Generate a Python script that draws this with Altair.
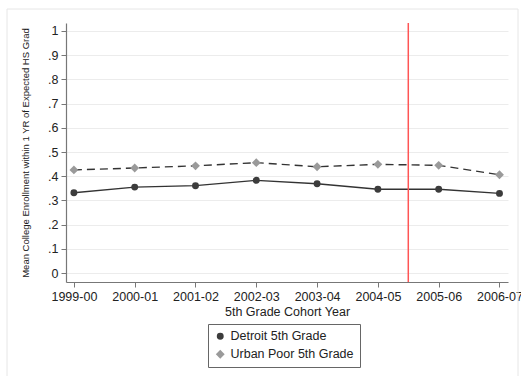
import altair as alt
import pandas as pd

# Cohort labels and the starting year each one is plotted at
cohorts = ["1999-00", "2000-01", "2001-02", "2002-03", "2003-04", "2004-05", "2005-06", "2006-07"]
start_years = [1999, 2000, 2001, 2002, 2003, 2004, 2005, 2006]

# Mean college enrollment within 1 year of expected HS graduation
detroit = [0.332, 0.355, 0.361, 0.383, 0.369, 0.346, 0.346, 0.329]
urban_poor = [0.426, 0.434, 0.443, 0.456, 0.439, 0.449, 0.445, 0.406]

series_names = ["Detroit 5th Grade", "Urban Poor 5th Grade"]
policy_break = [2004.5]
y_ticks = [0, 0.1, 0.2, 0.3, 0.4, 0.5, 0.6, 0.7, 0.8, 0.9, 1]

rows = []
for yr, d, u in zip(start_years, detroit, urban_poor):
    rows.append({"year": yr, "series": series_names[0], "value": d})
    rows.append({"year": yr, "series": series_names[1], "value": u})
df = pd.DataFrame(rows)

label_map = "{" + ",".join(f"'{y}':'{c}'" for y, c in zip(start_years, cohorts)) + "}"

FONT = "Liberation Sans"
W, H = 442, 259

x_axis = alt.Axis(
    values=start_years,
    labelExpr=f"{label_map}[datum.value]",
    title="5th Grade Cohort Year",
    grid=False,
    tickSize=5,
    labelPadding=3,
    titlePadding=3,
    labelOverlap=False,
)
y_axis = alt.Axis(
    values=y_ticks,
    labelExpr="datum.value == 0 ? '0' : datum.value == 1 ? '1' : replace(format(datum.value, '.1f'), '0.', '.')",
    title="Mean College Enrollment within 1 YR of Expected HS Grad",
    titleFontSize=9.5,
    titleX=-36,
    tickSize=5,
    labelPadding=3,
    labelOverlap=False,
    gridColor="#ececec",
)
x_scale = alt.Scale(domain=[1998.87, 2006.14], nice=False, zero=False)
y_scale = alt.Scale(domain=[-0.037, 1.033], nice=False, zero=False)


def xy():
    return dict(
        x=alt.X("year:Q", scale=x_scale, axis=x_axis),
        y=alt.Y("value:Q", scale=y_scale, axis=y_axis),
    )


base = alt.Chart(df)

# Light frame around the whole graph region
frame = alt.Chart(pd.DataFrame({"k": [0]})).mark_rect(
    fillOpacity=0, stroke="#e6e6e6", strokeWidth=1
).encode(
    x=alt.value(-59), x2=alt.value(452), y=alt.value(-14), y2=alt.value(380)
)

detroit_line = base.transform_filter(
    alt.datum.series == series_names[0]
).mark_line(strokeWidth=1.4, color="#333333").encode(**xy())

urban_line = base.transform_filter(
    alt.datum.series == series_names[1]
).mark_line(strokeWidth=1.4, color="#333333", strokeDash=[8, 5]).encode(**xy())

points = base.mark_point(filled=True, opacity=1).encode(
    **xy(),
    color=alt.Color(
        "series:N",
        scale=alt.Scale(domain=series_names, range=["#3c3c3c", "#9a9a9a"]),
        legend=alt.Legend(
            orient="none",
            legendX=142,
            legendY=301,
            strokeColor="#666666",
            padding=6,
            labelFontSize=12.5,
            labelColor="#222222",
            rowPadding=5,
        ),
        title="",
    ),
    shape=alt.Shape(
        "series:N",
        scale=alt.Scale(domain=series_names, range=["circle", "diamond"]),
        title="",
    ),
    size=alt.Size(
        "series:N",
        scale=alt.Scale(domain=series_names, range=[48, 78]),
        title="",
    ),
)

rule = alt.Chart(pd.DataFrame({"year": policy_break})).mark_rule(
    color="#ff5555", strokeWidth=1.5
).encode(x=alt.X("year:Q", scale=x_scale, axis=x_axis))

chart = (
    alt.layer(frame, detroit_line, urban_line, rule, points)
    .properties(
        width=W,
        height=H,
        autosize=alt.AutoSizeParams(type="none"),
        padding={"left": 66, "top": 23, "right": 13, "bottom": 94},
        background="white",
    )
    .configure_view(stroke=None)
    .configure_axis(
        labelFont=FONT,
        titleFont=FONT,
        labelFontSize=12.5,
        titleFontSize=12.5,
        labelColor="#222222",
        titleColor="#222222",
        titleFontWeight="normal",
        domainColor="#777777",
        tickColor="#777777",
        domainWidth=1.2,
    )
    .configure_axisX(labelAngle=0)
    .configure_legend(labelFont=FONT)
)

chart.save("out.html", embed_options={"renderer": "svg", "actions": False})
